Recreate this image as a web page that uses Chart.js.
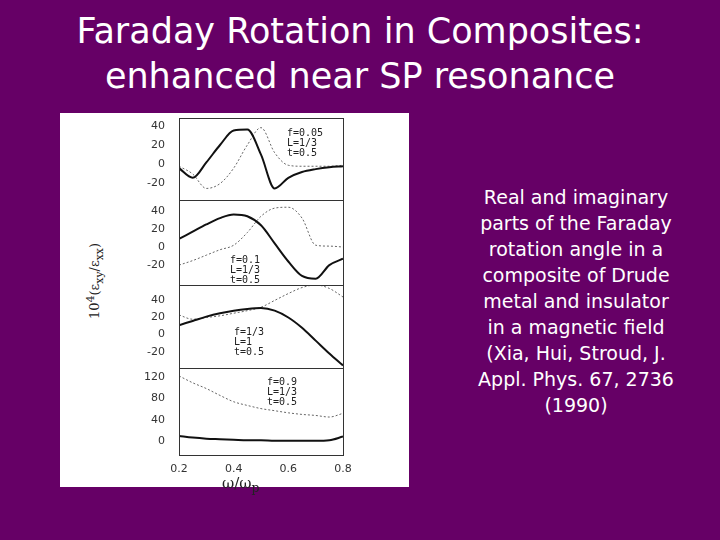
<!DOCTYPE html>
<html><head><meta charset="utf-8">
<script src="https://cdn.jsdelivr.net/npm/chart.js@4"></script>
<style>
body{margin:0;width:720px;height:540px;background:#660066;position:relative;overflow:hidden;font-family:"DejaVu Sans",sans-serif}
.t{position:absolute;color:#fff;text-align:center}
.c{position:absolute;width:225px}
.lab{position:absolute;font-size:10px;line-height:10px;color:#222;font-family:"DejaVu Sans Mono",monospace}
</style></head><body>
<div class="t" style="left:0;top:9px;width:720px;font-size:35px;line-height:45px">Faraday Rotation in Composites:<br>enhanced near SP resonance</div>
<div class="t" style="left:436px;top:184px;width:280px;font-size:19px;line-height:26px">Real and imaginary<br>parts of the Faraday<br>rotation angle in a<br>composite of Drude<br>metal and insulator<br>in a magnetic field<br>(Xia, Hui, Stroud, J.<br>Appl. Phys. 67, 2736<br>(1990)</div>
<div style="position:absolute;left:60px;top:113px;width:349px;height:374px;background:#fff"></div>
<div class="c" style="left:130px;top:118px;height:82px"><canvas id="c0"></canvas></div>
<div class="c" style="left:130px;top:200px;height:85px"><canvas id="c1"></canvas></div>
<div class="c" style="left:130px;top:285px;height:83px"><canvas id="c2"></canvas></div>
<div class="c" style="left:130px;top:368px;height:107px"><canvas id="c3"></canvas></div>
<div style="position:absolute;left:179px;top:118px;width:163px;height:336px;border:1px solid #333"></div>
<div style="position:absolute;left:179px;top:200px;width:164px;height:1px;background:#333"></div>
<div style="position:absolute;left:179px;top:285px;width:164px;height:1px;background:#333"></div>
<div style="position:absolute;left:179px;top:368px;width:164px;height:1px;background:#333"></div>
<div class="lab" style="left:287px;top:128px">f=0.05<br>L=1/3<br>t=0.5</div>
<div class="lab" style="left:230px;top:255px">f=0.1<br>L=1/3<br>t=0.5</div>
<div class="lab" style="left:234px;top:327px">f=1/3<br>L=1<br>t=0.5</div>
<div class="lab" style="left:267px;top:377px">f=0.9<br>L=1/3<br>t=0.5</div>
<div style="position:absolute;left:40px;top:270px;width:110px;transform:rotate(-90deg);font-size:13px;color:#222;text-align:center;font-family:'DejaVu Serif',serif">10<sup>4</sup>(ε<sub>xy</sub>/ε<sub>xx</sub>)</div>
<div style="position:absolute;left:222px;top:474px;font-size:15px;color:#222;font-family:'DejaVu Serif',serif">ω/ω<sub>p</sub></div>
<script>
const xs=[0.2,0.25,0.3,0.35,0.4,0.45,0.5,0.55,0.6,0.65,0.7,0.75,0.8];
const p1Solid=[-4,-14,2,20,35,36,10,-25,-14,-8,-5,-3,-2];
const p1Dot=[-2,-10,-25,-20,-4,20,38,12,-1,-2,-2,-2,-1];
const p2Solid=[9,17,25,32,36,34,24,4,-16,-32,-35,-20,-13];
const p2Dot=[-20,-15,-9,-3,2,16,34,43,44,32,2,1,0];
const p3Solid=[11,16,21,25,28,30,31,28,20,8,-7,-22,-36];
const p3Dot=[23,18,20,22,25,28,32,40,48,55,58,54,44];
const p4Solid=[9,6,4,3,2,1,1,0,0,0,0,1,8];
const p4Dot=[123,110,99,86,74,67,61,57,53,50,48,45,52];
const yTicks=[[-20,0,20,40],[-20,0,20,40],[-20,0,20,40],[0,40,80,120]];
const yRange=[[-37,48],[-42,52],[-39,58],[-27,138]];
const panels=[[p1Solid,p1Dot],[p2Solid,p2Dot],[p3Solid,p3Dot],[p4Solid,p4Dot]];
const xTicks=[0.2,0.4,0.6,0.8];
const tf={family:"DejaVu Sans",size:11};
panels.forEach((p,i)=>{
 const last=i===3;
 new Chart(document.getElementById('c'+i),{type:'line',
  data:{datasets:[
   {data:xs.map((x,k)=>({x,y:p[0][k]})),borderColor:'#111',borderWidth:2,pointRadius:0,cubicInterpolationMode:'monotone'},
   {data:xs.map((x,k)=>({x,y:p[1][k]})),borderColor:'#666',borderWidth:1,borderDash:[2,2],pointRadius:0,cubicInterpolationMode:'monotone'}]},
  options:{responsive:true,maintainAspectRatio:false,animation:false,layout:{autoPadding:false,padding:{left:0,right:12,top:0,bottom:0}},
   plugins:{legend:{display:false},tooltip:{enabled:false}},
   scales:{
    x:{type:'linear',min:0.2,max:0.8,display:last,grid:{display:false},border:{display:false},
       afterBuildTicks:a=>{a.ticks=xTicks.map(v=>({value:v}))},
       ticks:{color:'#333',font:tf,padding:0,callback:v=>v.toFixed(1)},
       afterFit:s=>{s.height=last?20:0;s.paddingLeft=0;s.paddingRight=0}},
    y:{min:yRange[i][0],max:yRange[i][1],grid:{display:false},border:{display:false},
       afterBuildTicks:a=>{a.ticks=yTicks[i].map(v=>({value:v}))},
       ticks:{color:'#333',font:tf,padding:6},
       afterFit:s=>{s.width=49;s.paddingTop=0;s.paddingBottom=0}}}}});
});
</script>
</body></html>
